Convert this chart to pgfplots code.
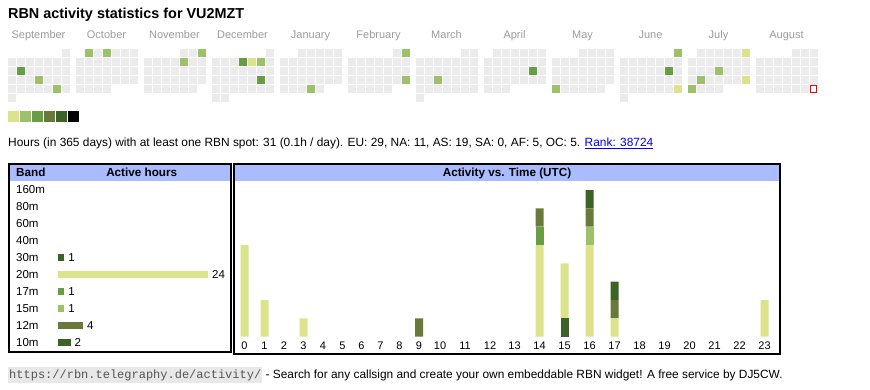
\documentclass[border=0pt]{standalone}
\usepackage{pgfplots}
\pgfplotsset{compat=1.18}
\usepackage{fontspec}
\setmainfont{Liberation Sans}
\newfontfamily\monofont{Liberation Mono}
\definecolor{cA}{RGB}{220,227,139}
\definecolor{cB}{RGB}{157,192,106}
\definecolor{cC}{RGB}{103,157,68}
\definecolor{cD}{RGB}{104,121,57}
\definecolor{cE}{RGB}{59,99,38}
\definecolor{calgray}{RGB}{235,235,235}
\definecolor{monthgray}{RGB}{155,155,155}
\definecolor{headblue}{RGB}{170,187,255}
\definecolor{linkblue}{RGB}{0,0,238}
\definecolor{codebg}{RGB}{232,232,232}
\definecolor{codefg}{RGB}{85,85,85}
\newcommand{\fs}[1]{\fontsize{#1}{#1}\selectfont}
\pgfplotsset{
  cal/.style={only marks, mark=square*, mark size=3.4pt, mark options={draw=#1, fill=#1, line width=0.2pt}},
  legsq/.style={only marks, mark=square*, mark size=4.9pt, mark options={draw=#1, fill=#1, line width=0.2pt}},
}

\begin{document}
\begin{tikzpicture}[x=1pt,y=1pt]
\path[use as bounding box] (0pt,0pt) rectangle (870pt,-390pt);
\node[anchor=base west, inner sep=0pt, font=\fs{14.4}\bfseries] at (8pt,-18.5pt) {RBN activity statistics for VU2MZT};

% ---------------- calendar ----------------
\begin{axis}[at={(0pt,0pt)}, anchor=north west, scale only axis, width=870pt, height=130pt,
  xmin=0, xmax=870, ymin=0, ymax=130, y dir=reverse, hide axis, clip=false]
% every day of the year: b = month block, r = week row, c = weekday column
\addplot[cal=calgray]
 table[row sep=\\, x expr=11.5+68*\thisrow{b}+9*\thisrow{c}, y expr=52.8+9*\thisrow{r}] {
b r c\\
0 0 6\\
0 1 0\\0 1 1\\0 1 2\\0 1 3\\0 1 4\\0 1 5\\0 1 6\\
0 2 0\\0 2 1\\0 2 2\\0 2 3\\0 2 4\\0 2 5\\0 2 6\\
0 3 0\\0 3 1\\0 3 2\\0 3 3\\0 3 4\\0 3 5\\0 3 6\\
0 4 0\\0 4 1\\0 4 2\\0 4 3\\0 4 4\\0 4 5\\0 4 6\\
0 5 0\\
1 0 1\\1 0 2\\1 0 3\\1 0 4\\1 0 5\\1 0 6\\
1 1 0\\1 1 1\\1 1 2\\1 1 3\\1 1 4\\1 1 5\\1 1 6\\
1 2 0\\1 2 1\\1 2 2\\1 2 3\\1 2 4\\1 2 5\\1 2 6\\
1 3 0\\1 3 1\\1 3 2\\1 3 3\\1 3 4\\1 3 5\\1 3 6\\
1 4 0\\1 4 1\\1 4 2\\1 4 3\\
2 0 4\\2 0 5\\2 0 6\\
2 1 0\\2 1 1\\2 1 2\\2 1 3\\2 1 4\\2 1 5\\2 1 6\\
2 2 0\\2 2 1\\2 2 2\\2 2 3\\2 2 4\\2 2 5\\2 2 6\\
2 3 0\\2 3 1\\2 3 2\\2 3 3\\2 3 4\\2 3 5\\2 3 6\\
2 4 0\\2 4 1\\2 4 2\\2 4 3\\2 4 4\\2 4 5\\
3 0 6\\
3 1 0\\3 1 1\\3 1 2\\3 1 3\\3 1 4\\3 1 5\\3 1 6\\
3 2 0\\3 2 1\\3 2 2\\3 2 3\\3 2 4\\3 2 5\\3 2 6\\
3 3 0\\3 3 1\\3 3 2\\3 3 3\\3 3 4\\3 3 5\\3 3 6\\
3 4 0\\3 4 1\\3 4 2\\3 4 3\\3 4 4\\3 4 5\\3 4 6\\
3 5 0\\3 5 1\\
4 0 2\\4 0 3\\4 0 4\\4 0 5\\4 0 6\\
4 1 0\\4 1 1\\4 1 2\\4 1 3\\4 1 4\\4 1 5\\4 1 6\\
4 2 0\\4 2 1\\4 2 2\\4 2 3\\4 2 4\\4 2 5\\4 2 6\\
4 3 0\\4 3 1\\4 3 2\\4 3 3\\4 3 4\\4 3 5\\4 3 6\\
4 4 0\\4 4 1\\4 4 2\\4 4 3\\4 4 4\\
5 0 5\\5 0 6\\
5 1 0\\5 1 1\\5 1 2\\5 1 3\\5 1 4\\5 1 5\\5 1 6\\
5 2 0\\5 2 1\\5 2 2\\5 2 3\\5 2 4\\5 2 5\\5 2 6\\
5 3 0\\5 3 1\\5 3 2\\5 3 3\\5 3 4\\5 3 5\\5 3 6\\
5 4 0\\5 4 1\\5 4 2\\5 4 3\\5 4 4\\
6 0 5\\6 0 6\\
6 1 0\\6 1 1\\6 1 2\\6 1 3\\6 1 4\\6 1 5\\6 1 6\\
6 2 0\\6 2 1\\6 2 2\\6 2 3\\6 2 4\\6 2 5\\6 2 6\\
6 3 0\\6 3 1\\6 3 2\\6 3 3\\6 3 4\\6 3 5\\6 3 6\\
6 4 0\\6 4 1\\6 4 2\\6 4 3\\6 4 4\\6 4 5\\6 4 6\\
6 5 0\\
7 0 1\\7 0 2\\7 0 3\\7 0 4\\7 0 5\\7 0 6\\
7 1 0\\7 1 1\\7 1 2\\7 1 3\\7 1 4\\7 1 5\\7 1 6\\
7 2 0\\7 2 1\\7 2 2\\7 2 3\\7 2 4\\7 2 5\\7 2 6\\
7 3 0\\7 3 1\\7 3 2\\7 3 3\\7 3 4\\7 3 5\\7 3 6\\
7 4 0\\7 4 1\\7 4 2\\
8 0 3\\8 0 4\\8 0 5\\8 0 6\\
8 1 0\\8 1 1\\8 1 2\\8 1 3\\8 1 4\\8 1 5\\8 1 6\\
8 2 0\\8 2 1\\8 2 2\\8 2 3\\8 2 4\\8 2 5\\8 2 6\\
8 3 0\\8 3 1\\8 3 2\\8 3 3\\8 3 4\\8 3 5\\8 3 6\\
8 4 0\\8 4 1\\8 4 2\\8 4 3\\8 4 4\\8 4 5\\
9 0 6\\
9 1 0\\9 1 1\\9 1 2\\9 1 3\\9 1 4\\9 1 5\\9 1 6\\
9 2 0\\9 2 1\\9 2 2\\9 2 3\\9 2 4\\9 2 5\\9 2 6\\
9 3 0\\9 3 1\\9 3 2\\9 3 3\\9 3 4\\9 3 5\\9 3 6\\
9 4 0\\9 4 1\\9 4 2\\9 4 3\\9 4 4\\9 4 5\\9 4 6\\
9 5 0\\
10 0 1\\10 0 2\\10 0 3\\10 0 4\\10 0 5\\10 0 6\\
10 1 0\\10 1 1\\10 1 2\\10 1 3\\10 1 4\\10 1 5\\10 1 6\\
10 2 0\\10 2 1\\10 2 2\\10 2 3\\10 2 4\\10 2 5\\10 2 6\\
10 3 0\\10 3 1\\10 3 2\\10 3 3\\10 3 4\\10 3 5\\10 3 6\\
10 4 0\\10 4 1\\10 4 2\\10 4 3\\
11 0 4\\11 0 5\\11 0 6\\
11 1 0\\11 1 1\\11 1 2\\11 1 3\\11 1 4\\11 1 5\\11 1 6\\
11 2 0\\11 2 1\\11 2 2\\11 2 3\\11 2 4\\11 2 5\\11 2 6\\
11 3 0\\11 3 1\\11 3 2\\11 3 3\\11 3 4\\11 3 5\\11 3 6\\
11 4 0\\11 4 1\\11 4 2\\11 4 3\\11 4 4\\11 4 5\\11 4 6\\
};
% active days, level 1
\addplot[cal=cA]
 table[row sep=\\, x expr=11.5+68*\thisrow{b}+9*\thisrow{c}, y expr=52.8+9*\thisrow{r}] {
b r c\\ 3 1 4\\ 9 4 6\\ 10 0 6\\ 10 3 6\\
};
% level 2
\addplot[cal=cB]
 table[row sep=\\, x expr=11.5+68*\thisrow{b}+9*\thisrow{c}, y expr=52.8+9*\thisrow{r}] {
b r c\\ 0 3 3\\ 0 4 5\\ 1 0 1\\ 1 0 3\\ 2 0 6\\ 2 1 4\\ 3 1 5\\ 4 4 3\\ 5 0 6\\ 5 3 6\\ 6 3 2\\ 8 4 0\\ 9 0 6\\ 10 2 3\\ 10 3 1\\ 10 4 0\\
};
% level 3
\addplot[cal=cC]
 table[row sep=\\, x expr=11.5+68*\thisrow{b}+9*\thisrow{c}, y expr=52.8+9*\thisrow{r}] {
b r c\\ 0 2 1\\ 3 1 3\\ 3 3 5\\ 7 2 5\\ 9 2 5\\
};
% today
\addplot[only marks, mark=square*, mark size=3.1pt, mark options={fill=white, draw=red, line width=0.8pt}]
 coordinates {(813.5,88.8)};
% colour scale
\addplot[legsq=cA] coordinates {(13,116.3)};
\addplot[legsq=cB] coordinates {(25,116.3)};
\addplot[legsq=cC] coordinates {(37,116.3)};
\addplot[legsq=cD] coordinates {(49,116.3)};
\addplot[legsq=cE] coordinates {(61,116.3)};
\addplot[legsq=black] coordinates {(73,116.3)};
\begin{scope}[every node/.style={anchor=base, inner sep=0pt, font=\fs{11}, text=monthgray}]
\node at (axis cs:38.5,39) {September};
\node at (axis cs:106.5,39) {October};
\node at (axis cs:174.5,39) {November};
\node at (axis cs:242.5,39) {December};
\node at (axis cs:310.5,39) {January};
\node at (axis cs:378.5,39) {February};
\node at (axis cs:446.5,39) {March};
\node at (axis cs:514.5,39) {April};
\node at (axis cs:582.5,39) {May};
\node at (axis cs:650.5,39) {June};
\node at (axis cs:718.5,39) {July};
\node at (axis cs:786.5,39) {August};
\end{scope}
\end{axis}

\node[anchor=base west, inner sep=0pt, font=\fs{11.9}] at (8pt,-146.3pt)
 {Hours (in 365 days) with at least one RBN spot: 31 (0.1h / day). EU: 29, NA: 11, AS: 19, SA: 0, AF: 5, OC: 5. \textcolor{linkblue}{\underline{Rank: 38724}}};

% ---------------- panels ----------------
\fill[headblue] (10pt,-165.3pt) rectangle (229.5pt,-180.7pt);
\fill[headblue] (235pt,-165.3pt) rectangle (778.7pt,-180.7pt);
\draw[line width=2pt] (9pt,-164.3pt) rectangle (230.5pt,-351.7pt);
\draw[line width=2pt] (234pt,-164.3pt) rectangle (779.7pt,-353.7pt);
\node[anchor=base west, inner sep=0pt, font=\fs{11.7}\bfseries] at (16pt,-176.7pt) {Band};
\node[anchor=base, inner sep=0pt, font=\fs{11.7}\bfseries] at (141.7pt,-176.7pt) {Active hours};
\node[anchor=base, inner sep=0pt, font=\fs{11.7}\bfseries] at (507pt,-176.7pt) {Activity vs. Time (UTC)};

% band bars (index 9 = 160m at top ... 0 = 10m at bottom)
\begin{axis}[at={(58pt,-350.6pt)}, anchor=south west, scale only axis, width=150pt, height=169.3pt,
  xmin=0, xmax=24, ymin=-0.5, ymax=9.5, xbar, bar width=7pt,
  axis line style={draw=none}, major tick length=0pt, xtick=\empty,
  ytick={0,1,2,3,4,5,6,7,8,9}, yticklabels={10m,12m,15m,17m,20m,30m,40m,60m,80m,160m},
  yticklabel style={anchor=west, inner sep=0pt, xshift=-42pt, font=\fs{11.5}},
  nodes near coords, point meta=x, /pgf/number format/assume math mode=true,
  every node near coord/.append style={font=\fs{11.5}, anchor=west, inner sep=0pt, xshift=4pt},
  clip=false]
\addplot[fill=cE, draw=none, bar shift=0pt] coordinates {(1,5)};
\addplot[fill=cA, draw=none, bar shift=0pt] coordinates {(24,4)};
\addplot[fill=cC, draw=none, bar shift=0pt] coordinates {(1,3)};
\addplot[fill=cB, draw=none, bar shift=0pt] coordinates {(1,2)};
\addplot[fill=cD, draw=none, bar shift=0pt] coordinates {(4,1)};
\addplot[fill=cE, draw=none, bar shift=0pt] coordinates {(2,0)};
\end{axis}

% activity vs time
\begin{axis}[at={(234pt,-336.7pt)}, anchor=south west, scale only axis, width=546pt, height=146.67pt,
  xmin=234, xmax=780, ymin=0, ymax=8, ybar stacked, bar width=8pt, enlargelimits=false,
  axis line style={draw=none}, major tick length=0pt, ytick=\empty,
  xtick={244.5,264.5,284,303.5,323,342.5,361.5,380.5,399.5,419,440,465,490,514.5,539.5,564.5,589.5,614.5,639.5,664.5,689.5,714.5,739.5,764.5},
  xticklabels={0,1,2,3,4,5,6,7,8,9,10,11,12,13,14,15,16,17,18,19,20,21,22,23},
  xticklabel style={anchor=base, inner sep=0pt, yshift=-13pt, font=\fs{11}},
  clip=false]
% 30m
\addplot[fill=cE, draw=none] coordinates {(244.5,0) (264.5,0) (303.5,0) (419,0) (539.5,0) (564.5,1) (589.5,0) (614.5,0) (764.5,0)};
% 20m
\addplot[fill=cA, draw=none] coordinates {(244.5,5) (264.5,2) (303.5,1) (419,0) (539.5,5) (564.5,3) (589.5,5) (614.5,1) (764.5,2)};
% 17m
\addplot[fill=cC, draw=none] coordinates {(244.5,0) (264.5,0) (303.5,0) (419,0) (539.5,1) (564.5,0) (589.5,0) (614.5,0) (764.5,0)};
% 15m
\addplot[fill=cB, draw=none] coordinates {(244.5,0) (264.5,0) (303.5,0) (419,0) (539.5,0) (564.5,0) (589.5,1) (614.5,0) (764.5,0)};
% 12m
\addplot[fill=cD, draw=none] coordinates {(244.5,0) (264.5,0) (303.5,0) (419,1) (539.5,1) (564.5,0) (589.5,1) (614.5,1) (764.5,0)};
% 10m
\addplot[fill=cE, draw=none] coordinates {(244.5,0) (264.5,0) (303.5,0) (419,0) (539.5,0) (564.5,0) (589.5,1) (614.5,1) (764.5,0)};
\end{axis}

% footer
\node[anchor=base west, inner xsep=1pt, inner ysep=2.5pt, fill=codebg, text=codefg, font=\monofont\fs{12}] (url) at (8pt,-378pt) {https://rbn.telegraphy.de/activity/};
\node[anchor=base west, inner sep=0pt, font=\fs{11.9}] at ([xshift=3pt]url.base east) {- Search for any callsign and create your own embeddable RBN widget! A free service by DJ5CW.};
\end{tikzpicture}
\end{document}
